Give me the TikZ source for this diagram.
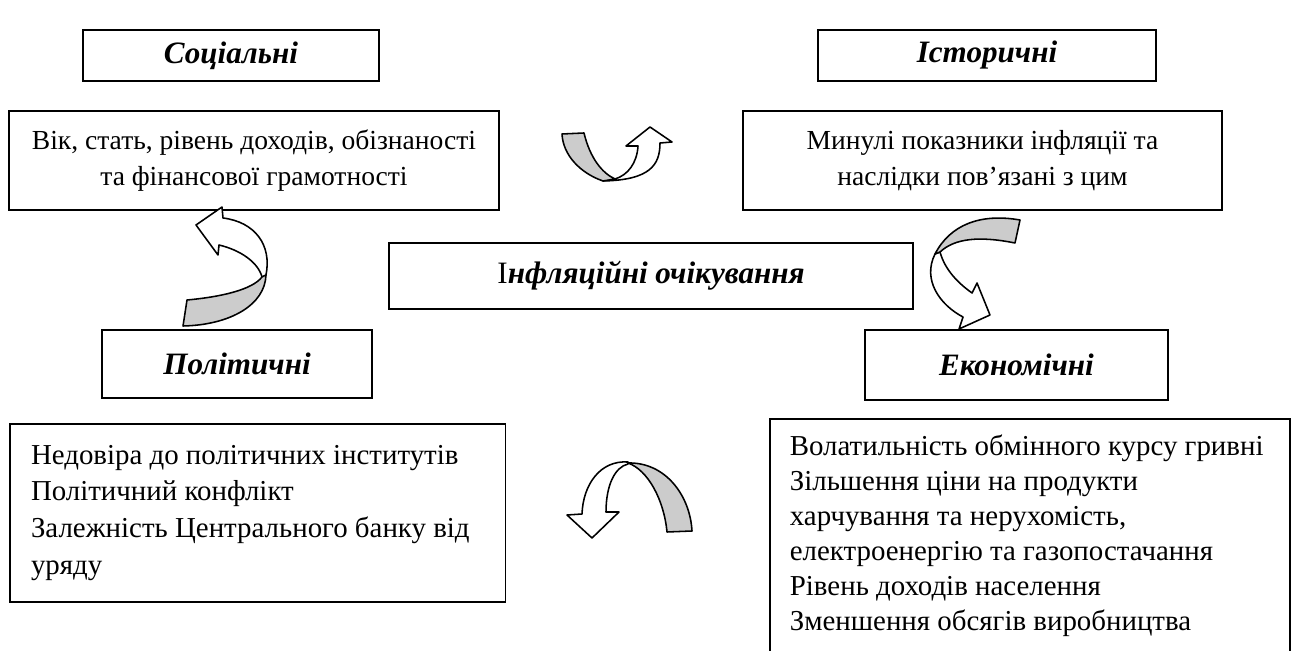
\documentclass[tikz,border=0pt]{standalone}
\usepackage{fontspec}
\setmainfont{Liberation Serif}
\usetikzlibrary{positioning}

\begin{document}
\begin{tikzpicture}[x=0.45pt, y=-0.45pt,
    titlebox/.style={draw, line width=0.8pt, inner sep=0pt, font=\fontsize{14}{16}\selectfont\bfseries\itshape},
    textbox/.style={draw, line width=0.8pt, inner sep=0pt, align=center, font=\fontsize{12.4}{16.2}\selectfont},
    listbox/.style={draw, line width=0.8pt, inner xsep=9.5pt, inner ysep=0pt, align=flush left, font=\fontsize{13}{16.5}\selectfont},
    band/.style={draw, line width=0.7pt, line join=round, fill=white},
    backband/.style={band, fill=gray!40}]

    \useasboundingbox (0,0) rectangle (1293,651);
    \clip (0,0) rectangle (1293,651);

    % Social
    \node[titlebox, minimum width=133pt, minimum height=23pt] (socT) at (231,55.5) {Соціальні};
    \node[textbox, minimum width=220.5pt, minimum height=44.5pt] (socB) at (254,160.5) {Вік, стать, рівень доходів, обізнаності\\та фінансової грамотності};

    % Historical
    \node[titlebox, minimum width=152pt, minimum height=23pt] (hisT) at (987,55.5) {Історичні};
    \node[textbox, minimum width=215.5pt, minimum height=44.5pt] (hisB) at (982.5,160.5) {Минулі показники інфляції та\\наслідки пов’язані з цим};

    % Centre
    \node[titlebox, minimum width=235.8pt, minimum height=29.7pt] (cen) at (651,276) {{\normalfont І}нфляційні очікування};

    % Political
    \node[titlebox, minimum width=121.5pt, minimum height=30.6pt] (polT) at (237,364) {Політичні};
    \node[listbox, text width=204pt, minimum height=80pt, anchor=north west] (polB) at (9,423) {Недовіра до політичних інститутів\\Політичний конфлікт\\Залежність Центрального банку від\\уряду};

    % Economic
    \node[titlebox, minimum width=136.4pt, minimum height=31.5pt] (ecoT) at (1016.5,365) {Економічні};
    \node[draw, line width=0.8pt, minimum width=234pt, minimum height=118pt, anchor=north west] (ecoB) at (769,418) {};
    \node[listbox, draw=none, font=\fontsize{13}{15.8}\selectfont, anchor=north west, inner sep=0pt] (ecoText) at ([shift={(9pt,-7pt)}]ecoB.north west) {Волатильність обмінного курсу гривні\\Зільшення ціни на продукти\\харчування та нерухомість,\\електроенергію та газопостачання\\Рівень доходів населення\\Зменшення обсягів виробництва};

    % Arrows
    \draw[band] (603,181) .. controls (650,180) and (660,165) .. (660,143) -- (672,142) -- (650,127) -- (626,146) -- (638,146) .. controls (637,163) and (628,175) .. (615,179) -- cycle;
    \draw[backband] (562,134) -- (584,133) .. controls (590,158) and (602,173) .. (615,179) -- (603,181) .. controls (580,173) and (563,155) .. (562,134) -- cycle;

    \draw[band] (266,275) .. controls (272,245) and (255,222) .. (223,218) -- (222,207) -- (196,225) -- (218,255) -- (219,245) .. controls (240,250) and (258,262) .. (262,277) -- cycle;
    \draw[backband] (187,300) .. controls (220,297) and (252,290) .. (262,277) -- (266,275) .. controls (265,305) and (230,325) .. (183,326) -- cycle;

    \draw[band] (935,254) .. controls (922,280) and (940,305) .. (963,317) -- (959,329) -- (990,315) -- (977,283) -- (972,293) .. controls (958,283) and (945,270) .. (940,252) -- cycle;
    \draw[backband] (1020,220) -- (1015,243) .. controls (980,236) and (955,238) .. (940,252) -- (935,254) .. controls (950,225) and (980,213) .. (1020,220) -- cycle;

    \draw[band] (628,462) .. controls (600,460) and (583,485) .. (582,514) -- (567,515) -- (592,538) -- (619,512) -- (606,512) .. controls (606,485) and (615,467) .. (628,464) -- cycle;
    \draw[backband] (667,532) -- (692,531) .. controls (690,495) and (665,462) .. (628,463) .. controls (648,470) and (664,500) .. (667,532) -- cycle;
\end{tikzpicture}
\end{document}
